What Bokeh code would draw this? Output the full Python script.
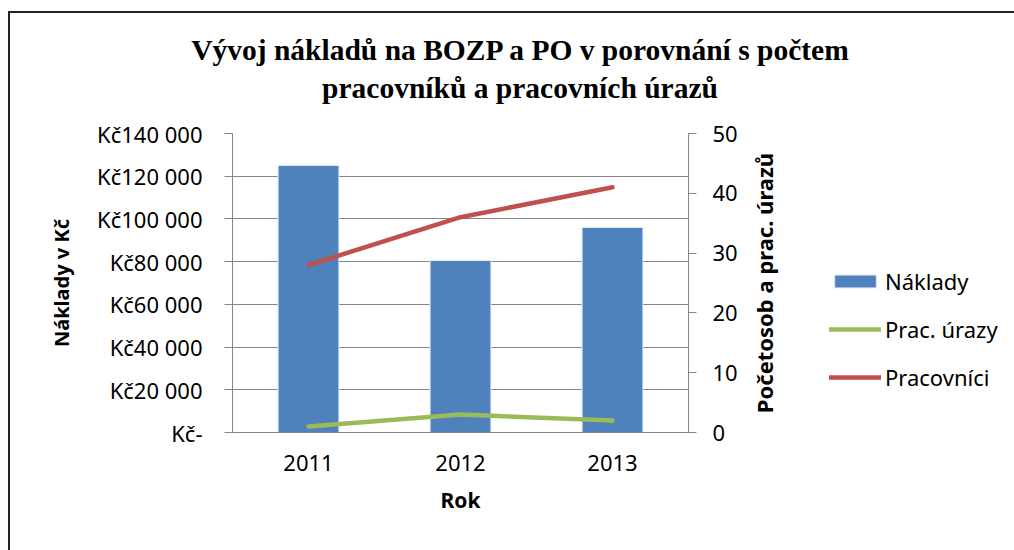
from bokeh.plotting import figure
from bokeh.models import (Range1d, FactorRange, LinearAxis, FixedTicker, Legend, LegendItem, Div)
from bokeh.layouts import column, row
from bokeh.embed import file_html
from bokeh.resources import INLINE

years = ["2011", "2012", "2013"]
naklady = [125000, 80500, 96000]
urazy = [1, 3, 2]
pracovnici = [28, 36, 41]

left_ticks = [0, 20000, 40000, 60000, 80000, 100000, 120000, 140000]
left_labels = ["Kč-", "Kč20 000", "Kč40 000", "Kč60 000", "Kč80 000", "Kč100 000", "Kč120 000", "Kč140 000"]
right_ticks = [0, 10, 20, 30, 40, 50]

title_lines = ["Vývoj nákladů na BOZP a PO v porovnání s počtem", "pracovníků a pracovních úrazů"]
series_names = ["Náklady", "Prac. úrazy", "Pracovníci"]
right_axis_title = "Početosob a prac. úrazů"

BLUE = "#4F81BD"
RED = "#C0504D"
GREEN = "#9BBB59"
GRID = "#868686"
FONT = "Noto Sans"
TICK_SIZE = "22px"

# ---- title ----
title = Div(text=("<div style=\"width:1004px;box-sizing:border-box;font-family:'Liberation Serif';"
                  "font-weight:bold;font-size:29.5px;line-height:38px;text-align:center;"
                  "padding-top:18px;padding-left:16px;color:black;\">"
                  + title_lines[0] + "<br>" + title_lines[1] + "</div>"),
            width=1004, height=96, margin=0)

# ---- main chart ----
p = figure(width=735, height=441, x_range=FactorRange(*years), y_range=Range1d(0, 140000),
           output_backend="svg", toolbar_location=None, title=None, margin=0,
           min_border_left=222, min_border_right=57, min_border_top=24, min_border_bottom=118)
p.extra_y_ranges = {"cnt": Range1d(0, 50)}
p.outline_line_color = None
p.background_fill_color = "white"
p.border_fill_color = "white"


def draw_series(fig, visible=True):
    b = fig.vbar(x=years, top=naklady, width=0.4, fill_color=BLUE, line_color="#dfe8f3",
                 line_width=1, visible=visible)
    u = fig.line(x=years, y=urazy, y_range_name="cnt", line_color=GREEN, line_width=4.5,
                 line_cap="round", line_join="round", visible=visible)
    r = fig.line(x=years, y=pracovnici, y_range_name="cnt", line_color=RED, line_width=4.5,
                 line_cap="round", line_join="round", visible=visible)
    return b, u, r


draw_series(p)


def style_axis(ax, label, label_size, label_standoff, tick_standoff):
    ax.axis_label = label
    ax.axis_label_text_font = FONT
    ax.axis_label_text_font_style = "bold"
    ax.axis_label_text_font_size = label_size
    ax.axis_label_text_color = "black"
    ax.axis_label_standoff = label_standoff
    ax.major_label_text_font = FONT
    ax.major_label_text_font_size = TICK_SIZE
    ax.major_label_text_color = "black"
    ax.major_label_standoff = tick_standoff
    ax.axis_line_color = GRID
    ax.major_tick_line_color = GRID
    ax.major_tick_out = 8
    ax.major_tick_in = 0
    ax.minor_tick_line_color = None


ya = p.yaxis[0]
ya.ticker = FixedTicker(ticks=left_ticks)
ya.major_label_overrides = {t: l for t, l in zip(left_ticks, left_labels)}
style_axis(ya, "Náklady v Kč", "20px", 19, 22)

# right axis: ticks + numbers here, its title is drawn (bottom-to-top) in the side panel
ra = LinearAxis(y_range_name="cnt", ticker=FixedTicker(ticks=right_ticks))
style_axis(ra, None, "22px", 12, 16)
p.add_layout(ra, "right")

xa = p.xaxis[0]
style_axis(xa, "Rok", "21px", 12, 22)
xa.major_tick_line_color = None
xa.major_tick_out = 0

p.xgrid.grid_line_color = None
p.ygrid.grid_line_color = GRID
p.ygrid.ticker = FixedTicker(ticks=left_ticks)

# ---- side panel: right-axis title + legend (series hidden, swatches shown) ----
lg = figure(width=269, height=441, x_range=FactorRange(*years), y_range=Range1d(0, 50),
            output_backend="svg", toolbar_location=None, title=None, margin=0,
            x_axis_location=None, y_axis_location="left",
            min_border_left=40, min_border_right=0, min_border_top=24, min_border_bottom=118)
lg.extra_y_ranges = {"cnt": Range1d(0, 50)}
lg.outline_line_color = None
lg.xgrid.grid_line_color = None
lg.ygrid.grid_line_color = None
la = lg.yaxis[0]
la.ticker = FixedTicker(ticks=[])
la.axis_line_color = None
la.major_tick_line_color = None
la.minor_tick_line_color = None
la.major_tick_out = 0
la.major_tick_in = 0
la.major_label_text_font_size = "0px"
la.axis_label = right_axis_title
la.axis_label_text_font = FONT
la.axis_label_text_font_style = "bold"
la.axis_label_text_font_size = "22px"
la.axis_label_text_color = "black"
la.axis_label_standoff = 9

sw_bar, sw_ur, sw_pr = draw_series(lg, visible=False)
legend = Legend(items=[LegendItem(label=series_names[0], renderers=[sw_bar]),
                       LegendItem(label=series_names[1], renderers=[sw_ur]),
                       LegendItem(label=series_names[2], renderers=[sw_pr])],
                location=(42, 40), glyph_width=52, glyph_height=16, label_height=26,
                spacing=18, label_standoff=4, padding=0, margin=0,
                label_text_font=FONT, label_text_font_size=TICK_SIZE, label_text_color="black",
                border_line_color=None, background_fill_alpha=0, click_policy="none")
lg.add_layout(legend, "center")

layout = column(title, row(p, lg, spacing=0), spacing=0)
layout.styles = {"margin-left": "8px", "margin-top": "11px",
                 "border-left": "2px solid #222222", "border-top": "2px solid #222222"}

open("out.html", "w").write(file_html(layout, INLINE))
